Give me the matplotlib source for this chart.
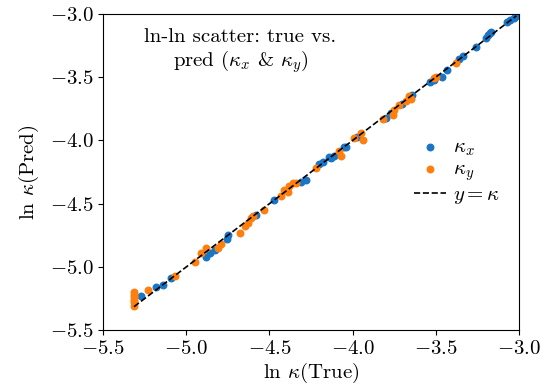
import numpy as np
import matplotlib
matplotlib.use("Agg")
import matplotlib.pyplot as plt

plt.rcParams["font.family"] = "serif"
plt.rcParams["font.serif"] = ["cmr10"]
plt.rcParams["mathtext.fontset"] = "cm"
plt.rcParams["axes.formatter.use_mathtext"] = True
plt.rcParams["font.size"] = 15

# ln kappa_x: (true, pred)
kx_true = [-5.27, -5.18, -5.14, -5.09, -4.88, -4.86, -4.83, -4.75, -4.755, -4.58,
           -4.47, -4.31, -4.28, -4.20, -4.18, -4.14, -4.13, -4.11, -4.05, -4.04,
           -3.975, -3.80, -3.77, -3.70, -3.64, -3.535, -3.51, -3.465, -3.43, -3.36,
           -3.335, -3.26, -3.195, -3.185, -3.175, -3.165, -3.07, -3.054, -3.03, -3.015]
kx_pred = [-5.23, -5.16, -5.14, -5.09, -4.92, -4.89, -4.87, -4.75, -4.78, -4.59,
           -4.47, -4.33, -4.31, -4.19, -4.17, -4.13, -4.14, -4.12, -4.05, -4.05,
           -3.976, -3.82, -3.78, -3.71, -3.64, -3.54, -3.52, -3.50, -3.44, -3.36,
           -3.33, -3.26, -3.19, -3.17, -3.15, -3.14, -3.06, -3.047, -3.03, -3.02]

# ln kappa_y: (true, pred)
ky_true = [-5.315, -5.315, -5.315, -5.315, -5.315, -5.315, -5.23, -5.07, -4.95, -4.91,
           -4.88, -4.81, -4.79, -4.68, -4.65, -4.63, -4.61, -4.60, -4.53, -4.43,
           -4.41, -4.39, -4.38, -4.36, -4.34, -4.22, -4.08, -4.07, -3.99, -3.95,
           -3.94, -3.82, -3.76, -3.75, -3.72, -3.68, -3.66, -3.65, -3.50, -3.51,
           -3.38]
ky_pred = [-5.20, -5.22, -5.24, -5.26, -5.28, -5.31, -5.18, -5.07, -4.96, -4.89,
           -4.85, -4.85, -4.82, -4.73, -4.68, -4.65, -4.61, -4.60, -4.55, -4.44,
           -4.39, -4.41, -4.36, -4.34, -4.34, -4.22, -4.08, -4.12, -3.98, -3.94,
           -4.00, -3.83, -3.80, -3.76, -3.72, -3.69, -3.65, -3.67, -3.50, -3.51,
           -3.39]

fig, ax = plt.subplots(figsize=(5.52, 3.87), dpi=100)
fig.subplots_adjust(left=0.187, right=0.94, top=0.964, bottom=0.147)

ax.scatter(kx_true, kx_pred, s=22, color="#1a75c4", label=r"$\kappa_x$", zorder=2)
ax.scatter(ky_true, ky_pred, s=22, color="#ff7f0e", label=r"$\kappa_y$", zorder=2)

lo = min(min(kx_true), min(ky_true))
hi = max(max(kx_true), max(ky_true))
ax.plot([lo, hi], [lo, hi], "k--", lw=1.2, label=r"$y = \kappa$", zorder=3)

ax.set_xlim(-5.5, -3.0)
ax.set_ylim(-5.5, -3.0)
ax.set_xticks(np.arange(-5.5, -2.9, 0.5))
ax.set_yticks(np.arange(-5.5, -2.9, 0.5))
ax.set_xlabel(r"ln $\kappa$(True)", labelpad=2)
ax.set_ylabel(r"ln $\kappa$(Pred)", labelpad=6)

ax.text(0.33, 0.955, "ln-ln scatter: true vs.\npred ($\\kappa_x$ & $\\kappa_y$)",
        transform=ax.transAxes, ha="center", va="top", fontsize=15, linespacing=1.1)
ax.legend(loc="center right", frameon=False, fontsize=15, handlelength=1.5,
          handletextpad=0.35, labelspacing=0.1, bbox_to_anchor=(1.0, 0.50))

fig.savefig("out.png", dpi=100)
